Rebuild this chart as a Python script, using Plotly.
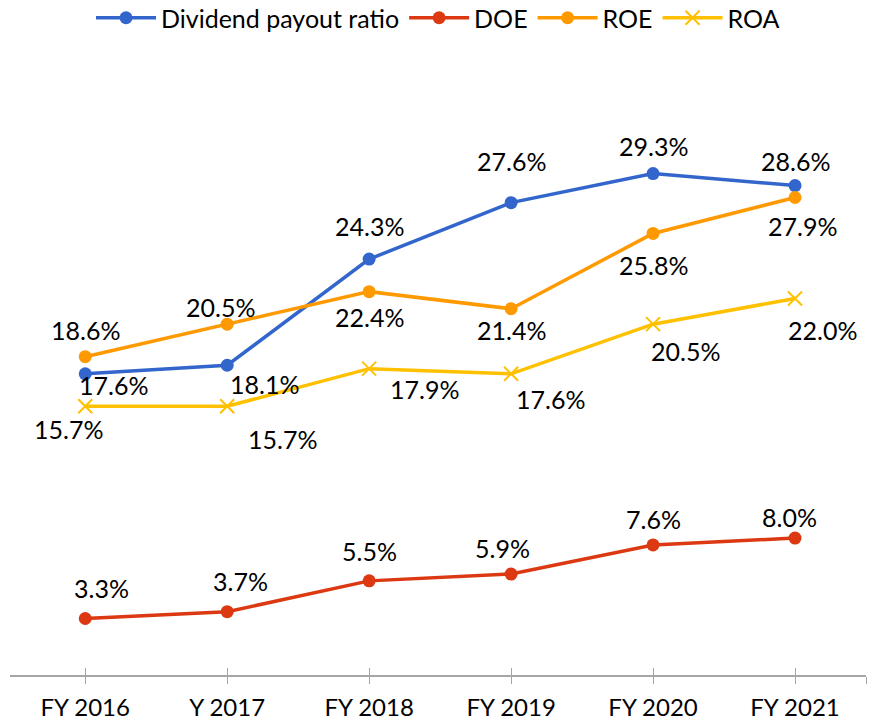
import plotly.graph_objects as go

categories = ["FY 2016", "Y 2017", "FY 2018", "FY 2019", "FY 2020", "FY 2021"]
payout = [17.6, 18.1, 24.3, 27.6, 29.3, 28.6]
doe = [3.3, 3.7, 5.5, 5.9, 7.6, 8.0]
roe = [18.6, 20.5, 22.4, 21.4, 25.8, 27.9]
roa = [15.7, 15.7, 17.9, 17.6, 20.5, 22.0]

FONT = "Lato"
xs = list(range(len(categories)))

series = [
    ("Dividend payout ratio", payout, "#3366CC", "circle",
     [(28, -11), (37, -19), (0, 33), (0, 42), (0, 28), (0, 25)]),
    ("DOE", doe, "#DC3912", "circle",
     [(16, 31), (13, 31), (0, 30), (-9, 26), (0, 26), (-6, 21)]),
    ("ROE", roe, "#FF9900", "circle",
     [(0, 27), (-7, 17), (0, -25), (0, -21), (0, -32), (7, -28)]),
    ("ROA", roa, "#FFC000", "x-thin",
     [(-17, -23), (55, -33), (55, -20), (39, -25), (32, -27), (27, -32)]),
]

fig = go.Figure()
annotations = []
for name, vals, color, sym, offs in series:
    marker = dict(color=color, size=13, symbol=sym)
    if sym == "x-thin":
        marker = dict(color=color, size=14, symbol=sym, line=dict(color=color, width=2))
    fig.add_trace(go.Scatter(
        x=xs, y=vals, name=name, mode="lines+markers",
        line=dict(color=color, width=3.5), marker=marker,
    ))
    for i, v in enumerate(vals):
        annotations.append(dict(
            x=xs[i], y=v, xref="x", yref="y", text=f"{v:.1f}%", showarrow=False,
            xshift=offs[i][0], yshift=offs[i][1],
            font=dict(family=FONT, size=25, color="#000000"),
        ))

tickvals = xs + [5.5]
ticktext = categories + [""]

fig.update_layout(
    width=872, height=722,
    margin=dict(l=10, r=6, t=76, b=47, autoexpand=False),
    paper_bgcolor="white", plot_bgcolor="white",
    font=dict(family=FONT, size=22, color="#000000"),
    showlegend=True,
    legend=dict(orientation="h", x=0.5, xanchor="center", y=1 - 18 / 722,
                yanchor="middle", yref="container", font=dict(family=FONT, size=25),
                itemwidth=60, bgcolor="rgba(0,0,0,0)"),
    annotations=annotations,
    xaxis=dict(range=[-0.53, 5.5], tickvals=tickvals, ticktext=ticktext,
               showgrid=False, zeroline=False, showline=True, linecolor="#A6A6A6",
               linewidth=1.5, ticks="outside", ticklen=7, tickcolor="#A6A6A6",
               tickwidth=1.2, tickfont=dict(family=FONT, size=24), fixedrange=True,
               automargin=False, ticklabelstandoff=3),
    xaxis2=dict(range=[-0.53, 5.5], tickvals=tickvals, overlaying="x", anchor="y",
                side="bottom", showticklabels=False, showgrid=False, zeroline=False,
                ticks="inside", ticklen=7, tickcolor="#A6A6A6", tickwidth=1.2,
                automargin=False),
    yaxis=dict(range=[0, 35], visible=False, fixedrange=True, automargin=False),
)
fig.add_trace(go.Scatter(x=[0], y=[None], xaxis="x2", showlegend=False, hoverinfo="skip"))

fig.write_html("out.html", config={"displayModeBar": False},
               post_script="document.body.style.margin='0';document.body.style.overflow='hidden';")
